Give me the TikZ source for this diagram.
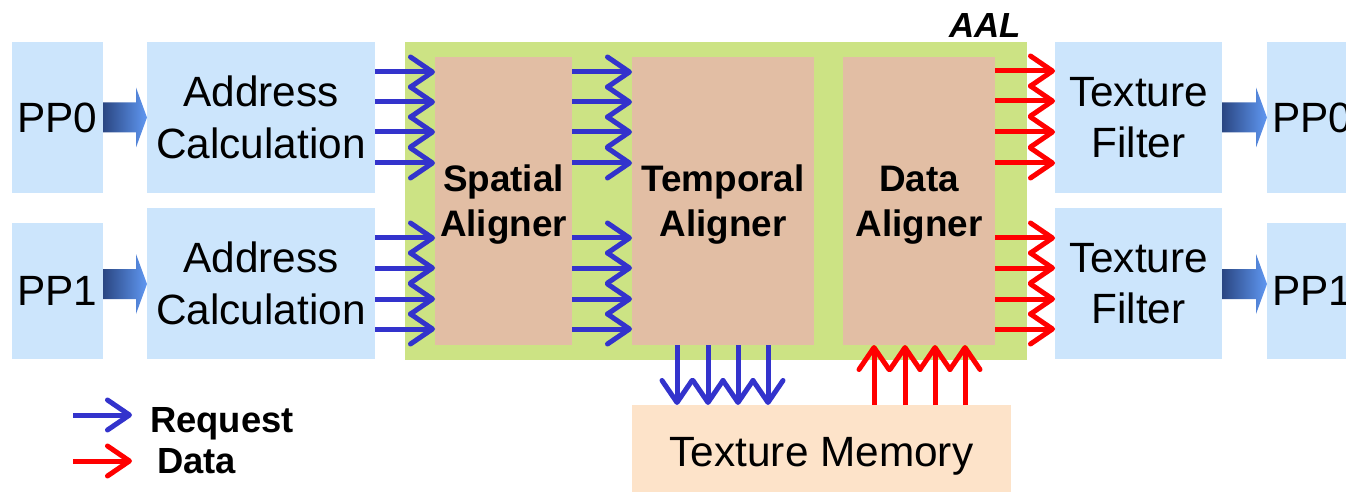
\documentclass[tikz,border=0pt]{standalone}
\usepackage{fontspec}
\setmainfont{Liberation Sans}
\usetikzlibrary{arrows.meta}
\definecolor{boxblue}{RGB}{204,229,252}
\definecolor{aalgreen}{RGB}{204,227,132}
\definecolor{tan}{RGB}{226,190,164}
\definecolor{peach}{RGB}{253,227,201}
\definecolor{reqblue}{RGB}{51,51,204}
\definecolor{datred}{RGB}{255,0,0}
\definecolor{blkdark}{RGB}{42,70,130}
\definecolor{blklight}{RGB}{96,152,242}
\begin{document}
\begin{tikzpicture}[x=1bp,y=-1bp,
  box/.style={rectangle, inner sep=0pt, outer sep=0pt, anchor=north west, text depth=0pt, align=center},
  lb/.style={box, fill=boxblue, font=\fontsize{42.5}{52}\selectfont},
  al/.style={box, fill=tan, font=\fontsize{37}{45}\selectfont\bfseries},
  req/.style={draw=reqblue, line width=5bp, -{Straight Barb[round,length=22bp,width=30bp]}},
  dat/.style={req, draw=datred},
  blk/.style={left color=blkdark, right color=blklight, draw=none}
]
\useasboundingbox (0,0) rectangle (1346,492);
\clip (0,0) rectangle (1346,492);

% AAL frame
\node[box, fill=aalgreen, minimum width=622bp, minimum height=318bp] (aal) at (405,42) {};
\node[anchor=base east, inner sep=0pt, font=\fontsize{35}{40}\selectfont\bfseries\itshape] (aallabel) at (1021,38) {AAL};

% left side
\node[lb, minimum width=91bp, minimum height=151bp] (pp0) at (12,42) {PP0};
\node[lb, minimum width=91bp, minimum height=136bp] (pp1) at (12,223) {PP1};
\node[lb, minimum width=228bp, minimum height=151bp] (addr0) at (147,42) {Address\\Calculation};
\node[lb, minimum width=228bp, minimum height=151bp] (addr1) at (147,208) {Address\\Calculation};

% aligners
\node[al, minimum width=137bp, minimum height=288bp] (spa) at (435,57) {Spatial\\Aligner};
\node[al, minimum width=182bp, minimum height=288bp] (tem) at (632,57) {Temporal\\Aligner};
\node[al, minimum width=152bp, minimum height=288bp] (dal) at (843,57) {Data\\Aligner};

% right side
\node[lb, minimum width=167bp, minimum height=151bp] (tf0) at (1055,42) {Texture\\Filter};
\node[lb, minimum width=167bp, minimum height=151bp] (tf1) at (1055,208) {Texture\\Filter};
\node[lb, minimum width=91bp, minimum height=151bp] (pp0r) at (1267,42) {PP0};
\node[lb, minimum width=91bp, minimum height=136bp] (pp1r) at (1267,223) {PP1};

% memory
\node[lb, fill=peach, minimum width=379bp, minimum height=94bp] (mem) at (632,405) {Texture Memory};

% block arrows
\shade[blk] (103,102.5) -- (136,102.5) -- (136,87.5) -- (147,117.5) -- (136,147.5) -- (136,132.5) -- (103,132.5) -- cycle;
\shade[blk] (103,269) -- (136,269) -- (136,254) -- (147,284) -- (136,314) -- (136,299) -- (103,299) -- cycle;
\shade[blk] (1222,102.5) -- (1256,102.5) -- (1256,87.5) -- (1267,117.5) -- (1256,147.5) -- (1256,132.5) -- (1222,132.5) -- cycle;
\shade[blk] (1222,269) -- (1256,269) -- (1256,254) -- (1267,284) -- (1256,314) -- (1256,299) -- (1222,299) -- cycle;

% request arrows
\foreach \y in {72,102,132,163} {
  \draw[req] (addr0.east |- 0,\y) -- (spa.west |- 0,\y);
  \draw[req] (spa.east |- 0,\y) -- (tem.west |- 0,\y);
}
\foreach \y in {238,268,299,329} {
  \draw[req] (addr1.east |- 0,\y) -- (spa.west |- 0,\y);
  \draw[req] (spa.east |- 0,\y) -- (tem.west |- 0,\y);
}
\foreach \x in {677,708,738,768}
  \draw[req] (\x,0 |- tem.south) -- (\x,0 |- mem.north);

% data arrows
\foreach \x in {874,905,935,965}
  \draw[dat] (\x,0 |- mem.north) -- (\x,0 |- dal.south);
\foreach \y in {71,101,132,163}
  \draw[dat] (dal.east |- 0,\y) -- (tf0.west |- 0,\y);
\foreach \y in {238,268,299,329}
  \draw[dat] (dal.east |- 0,\y) -- (tf1.west |- 0,\y);

% legend
\coordinate (lreqs) at (73,415);
\coordinate (lreqe) at (132,415);
\coordinate (ldats) at (73,461);
\coordinate (ldate) at (132,461);
\draw[req] (lreqs) -- (lreqe);
\draw[dat] (ldats) -- (ldate);
\node[anchor=base west, inner sep=0pt, font=\fontsize{36.5}{40}\selectfont\bfseries] (lreq) at (150,432) {Request};
\node[anchor=base west, inner sep=0pt, font=\fontsize{36.5}{40}\selectfont\bfseries] (ldat) at (157,473) {Data};
\end{tikzpicture}
\end{document}
